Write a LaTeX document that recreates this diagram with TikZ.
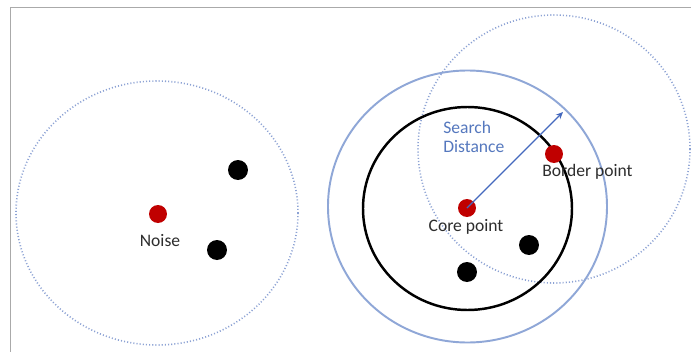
\documentclass[tikz,border=0pt]{standalone}
\usepackage{fontspec}
\setmainfont{Carlito}
\usetikzlibrary{arrows.meta}
\definecolor{dotblue}{RGB}{140,162,212}
\definecolor{ringblue}{RGB}{143,167,215}
\definecolor{txtblue}{RGB}{85,120,190}
\definecolor{arrowblue}{RGB}{68,104,190}
\definecolor{reddot}{RGB}{192,0,0}
\definecolor{lbl}{RGB}{45,45,45}
\definecolor{framegray}{RGB}{170,170,170}
\begin{document}
\begin{tikzpicture}[x=0.02cm,y=-0.02cm,
  dotring/.style={draw=dotblue,line width=0.9pt,dash pattern=on 0.6pt off 1.2pt},
  solidring/.style={draw=ringblue,line width=1.1pt},
  blackring/.style={draw=black,line width=1.4pt},
  rpt/.style={circle,fill=reddot,inner sep=0pt,minimum size=0.36cm},
  bpt/.style={circle,fill=black,inner sep=0pt,minimum size=0.40cm},
  lab/.style={text=lbl,font=\fontsize{10pt}{12pt}\selectfont,inner sep=0pt},
  blab/.style={text=txtblue,font=\fontsize{10pt}{12pt}\selectfont,inner sep=0pt,align=left}]
\useasboundingbox (0,0) rectangle (691,352);
\fill[white] (0,0) rectangle (691,352);
% frame
\draw[framegray,line width=0.8pt] (10.5,352) -- (10.5,7.5) -- (691,7.5);
% rings
\draw[dotring] (157,213) ellipse [x radius=141, y radius=132];
\draw[dotring] (554,149) ellipse [x radius=136, y radius=134];
\draw[solidring] (467.5,206.5) ellipse [x radius=139.5, y radius=136];
\draw[blackring] (467.5,208.5) ellipse [x radius=104.5, y radius=101.5];
% points
\node[rpt] (noise) at (158,214) {};
\node[bpt] (b1) at (238,170) {};
\node[bpt] (b2) at (217,250) {};
\node[rpt] (core) at (467,208) {};
\node[rpt] (border) at (554,154) {};
\node[bpt] (b3) at (529,245) {};
\node[bpt] (b4) at (467,272) {};
% arrow
\coordinate (tip) at (563,112);
\draw[arrowblue,line width=0.8pt,-{Stealth[length=4pt,width=3.5pt]}] (core.center) -- (tip);
% labels
\node[lab] (lnoise) at (160,241) {Noise};
\node[lab] (lcore) at (466,227) {Core point};
\node[lab,anchor=west] (lborder) at (542,172) {Border point};
\node[blab,anchor=north west] (lsearch) at (443,121) {Search\\[-1pt]Distance};
\end{tikzpicture}
\end{document}
